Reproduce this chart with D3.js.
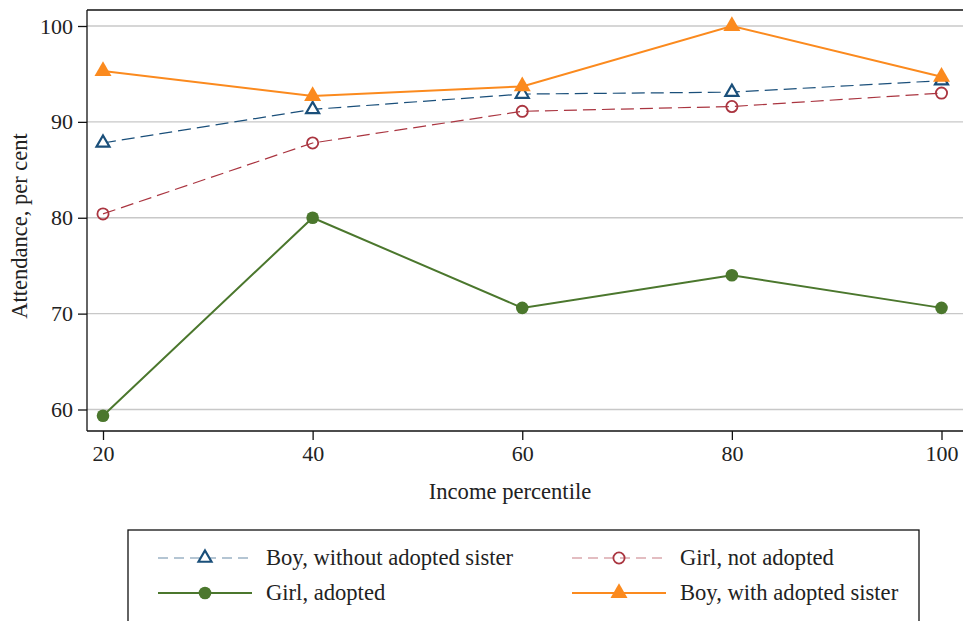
<!DOCTYPE html>
<html>
<head>
<meta charset="utf-8">
<script src="https://cdn.jsdelivr.net/npm/d3@7"></script>
<style>
	body { margin: 0; background: #fff; }
	svg text { font-family: "Liberation Serif", "Times New Roman", serif; fill: #222; }
	.axis text { font-size: 22px; }
	.axis path, .axis line { stroke: #111; stroke-width: 1.3; }
</style>
</head>
<body>
<div id="chart"></div>
<script>
/* global d3 */

// values
var percentiles = [20, 40, 60, 80, 100];
var yTicks = [60, 70, 80, 90, 100];

var boyWithout = [87.8, 91.3, 92.9, 93.1, 94.3];
var girlNotAdopted = [80.4, 87.8, 91.1, 91.6, 93.0];
var girlAdopted = [59.35, 80.0, 70.6, 74.0, 70.6];
var boyWith = [95.3, 92.7, 93.7, 100.0, 94.7];

var series = [
	{ name: 'Boy, without adopted sister', values: boyWithout, color: '#1a4f7a', dash: '13,6', width: 1.2, marker: 'triangle', hollow: true },
	{ name: 'Girl, not adopted', values: girlNotAdopted, color: '#aa3540', dash: '13,6', width: 1.2, marker: 'circle', hollow: true },
	{ name: 'Girl, adopted', values: girlAdopted, color: '#4b772d', dash: null, width: 2, marker: 'circle', hollow: false },
	{ name: 'Boy, with adopted sister', values: boyWith, color: '#fb8a1e', dash: null, width: 2, marker: 'triangle', hollow: false }
];

var W = 963, H = 621;
var margin = { top: 10, right: 0, bottom: 190, left: 87 };

var svg = d3.select('#chart').append('svg')
	.attr('width', W)
	.attr('height', H);

var x = d3.scaleLinear().domain([20, 100]).range([103, 941.5]);
var y = d3.scaleLinear().domain([60, 100]).range([409.5, 26]);

var plotTop = margin.top, plotBottom = 431, plotLeft = margin.left;

// gridlines
svg.append('g')
	.selectAll('line')
	.data(yTicks)
	.enter().append('line')
		.attr('x1', plotLeft)
		.attr('x2', W)
		.attr('y1', function (d) { return y(d); })
		.attr('y2', function (d) { return y(d); })
		.style('stroke', '#c8c8c8')
		.style('stroke-width', 1.3);

// top border of the plot region
svg.append('line')
	.attr('x1', plotLeft).attr('x2', W)
	.attr('y1', plotTop).attr('y2', plotTop)
	.style('stroke', '#111').style('stroke-width', 1.3);

svg.append('g')
	.attr('class', 'axis axis--y')
	.attr('transform', 'translate(' + plotLeft + ',0)')
	.call(d3.axisLeft(y).tickValues(yTicks).tickSize(9).tickPadding(5).tickSizeOuter(0))
	.call(function (g) {
		g.select('.domain').attr('d', 'M0,' + plotTop + 'V' + plotBottom);
	});

svg.append('g')
	.attr('class', 'axis axis--x')
	.attr('transform', 'translate(0,' + plotBottom + ')')
	.call(d3.axisBottom(x).tickValues(percentiles).tickSize(9).tickPadding(5).tickSizeOuter(0))
	.call(function (g) {
		g.select('.domain').attr('d', 'M' + plotLeft + ',0H' + W);
	});

// axis titles
svg.append('text')
	.attr('transform', 'translate(27,' + 226 + ') rotate(-90)')
	.attr('text-anchor', 'middle')
	.style('font-size', '22.5px')
	.text('Attendance, per cent');

svg.append('text')
	.attr('x', 510)
	.attr('y', 499)
	.attr('text-anchor', 'middle')
	.style('font-size', '22.6px')
	.text('Income percentile');

var line = d3.line()
	.x(function (d, i) { return x(percentiles[i]); })
	.y(function (d) { return y(d); });

function triPath(size) {
	var h = size * Math.sqrt(3) / 2;
	return 'M0,' + (-h * 2 / 3) + 'L' + (size / 2) + ',' + (h / 3) + 'L' + (-size / 2) + ',' + (h / 3) + 'Z';
}

function drawMarker(g, s) {
	if (s.marker === 'triangle') {
		g.append('path')
			.attr('d', triPath(s.hollow ? 13 : 17))
			.style('fill', s.hollow ? '#fff' : s.color)
			.style('stroke', s.color)
			.style('stroke-width', s.hollow ? 2.2 : 0);
	} else {
		g.append('circle')
			.attr('r', s.hollow ? 5.6 : 6.3)
			.style('fill', s.hollow ? 'none' : s.color)
			.style('stroke', s.hollow ? s.color : 'none')
			.style('stroke-width', 1.8);
	}
}

var regions = svg.selectAll('.series')
	.data(series)
	.enter().append('g')
		.attr('class', 'series');

regions.append('path')
	.attr('d', function (d) { return line(d.values); })
	.style('fill', 'none')
	.style('stroke', function (d) { return d.color; })
	.style('stroke-width', function (d) { return d.width; })
	.style('stroke-dasharray', function (d) { return d.dash; });

regions.each(function (s) {
	var g = d3.select(this);
	s.values.forEach(function (v, i) {
		drawMarker(g.append('g').attr('transform', 'translate(' + x(percentiles[i]) + ',' + y(v) + ')'), s);
	});
});

// legend
var legend = svg.append('g').attr('class', 'legend');

legend.append('rect')
	.attr('x', 128)
	.attr('y', 530)
	.attr('width', 791)
	.attr('height', 120)
	.style('fill', '#fff')
	.style('stroke', '#111')
	.style('stroke-width', 1.3);

var legendPos = [
	{ x: 158, y: 558 },
	{ x: 572, y: 558 },
	{ x: 158, y: 593 },
	{ x: 572, y: 593 }
];

series.forEach(function (s, i) {
	var p = legendPos[i];
	var item = legend.append('g').attr('transform', 'translate(' + p.x + ',' + p.y + ')');
	item.append('line')
		.attr('x1', 0).attr('x2', 94)
		.attr('y1', 0).attr('y2', 0)
		.style('stroke', s.color)
		.style('stroke-opacity', s.dash ? 0.65 : 1)
		.style('stroke-width', s.width)
		.style('stroke-dasharray', s.dash ? '10,6' : null);
	drawMarker(item.append('g').attr('transform', 'translate(47,0)'), s);
	item.append('text')
		.attr('x', 108)
		.attr('y', 7)
		.style('font-size', '22.6px')
		.text(s.name);
});
</script>
</body>
</html>
